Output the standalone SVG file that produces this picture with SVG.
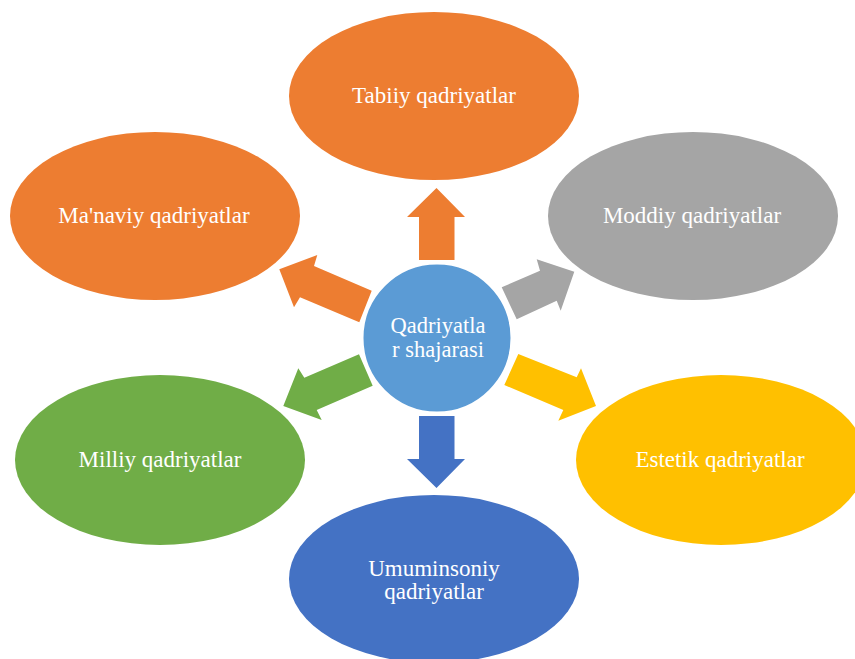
<svg xmlns="http://www.w3.org/2000/svg" width="855" height="659" viewBox="0 0 855 659">
<style>
.lbl{font-family:"Liberation Serif","DejaVu Serif",serif;font-size:23px;fill:#FFFFFF;text-anchor:middle}
.ctr{font-size:22.5px}
.orange{fill:#ED7D31}
.grey{fill:#A5A5A5}
.yellow{fill:#FFC000}
.blue{fill:#4472C4}
.green{fill:#70AD47}
.center{fill:#5B9BD5;stroke:#FFFFFF;stroke-width:3}
</style>
<rect width="855" height="659" fill="#FFFFFF"/>
<g id="connectors">
<polygon class="orange" points="419,260 419,217 407,217 436.5,188 465,217 454.5,217 454.5,260"/>
<polygon class="blue" points="419,416 419,459 407,459 436.5,488 465,459 454.5,459 454.5,416"/>
<polygon class="orange" points="371.7,290.7 314,266 317.3,255 279.3,269.3 294,307.3 300,297.3 359.3,322.3"/>
<polygon class="green" points="359,354.3 304.3,377.7 298.3,368.3 283.3,406 321.7,420 316.7,410 372.7,385.7"/>
<polygon class="grey" points="501.7,287.3 540,270.7 536.7,259.3 574.3,271.7 560.7,310.7 556.7,300.7 516.7,319.3"/>
<polygon class="yellow" points="518.3,354 576.7,377.3 581,368.3 596,406 558.3,420.7 563.3,410 504.3,385"/>
</g>
<g id="tabiiy">
<ellipse class="orange" cx="434" cy="96" rx="145" ry="84"/>
<text class="lbl" x="434" y="103">Tabiiy qadriyatlar</text>
</g>
<g id="manaviy">
<ellipse class="orange" cx="155" cy="216" rx="145" ry="84"/>
<text class="lbl" x="154" y="223">Ma'naviy qadriyatlar</text>
</g>
<g id="moddiy">
<ellipse class="grey" cx="693" cy="216" rx="145" ry="84"/>
<text class="lbl" x="692" y="223">Moddiy qadriyatlar</text>
</g>
<g id="milliy">
<ellipse class="green" cx="160" cy="460" rx="145" ry="85"/>
<text class="lbl" x="160" y="467">Milliy qadriyatlar</text>
</g>
<g id="estetik">
<ellipse class="yellow" cx="721" cy="460" rx="145" ry="85"/>
<text class="lbl" x="720" y="467">Estetik qadriyatlar</text>
</g>
<g id="umuminsoniy">
<ellipse class="blue" cx="434" cy="579" rx="145" ry="84"/>
<text class="lbl" x="434" y="576">Umuminsoniy</text>
<text class="lbl" x="434" y="599">qadriyatlar</text>
</g>
<g id="qadriyatlar-shajarasi">
<circle class="center" cx="437" cy="338" r="75"/>
<text class="lbl ctr" x="438" y="333">Qadriyatla</text>
<text class="lbl ctr" x="438" y="357">r shajarasi</text>
</g>
</svg>
